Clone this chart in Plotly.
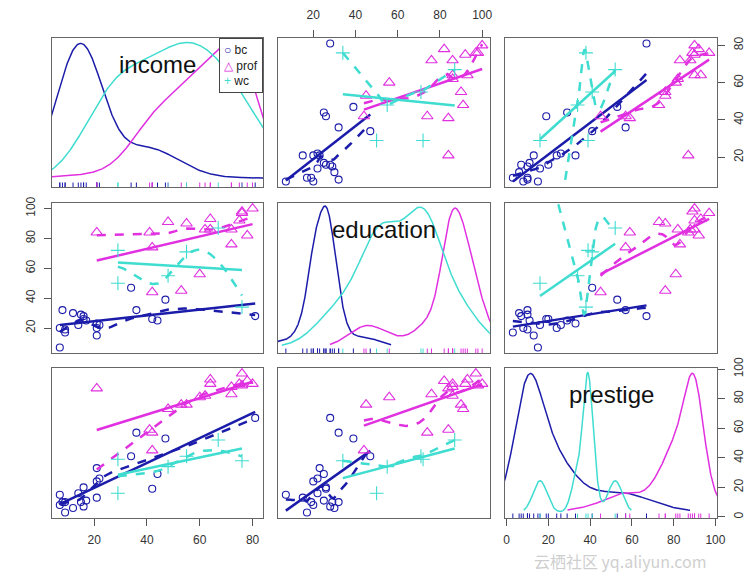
import numpy as np
import plotly.graph_objects as go

# ---- Duncan occupational data ----
occ_type = ["prof", "prof", "prof", "prof", "prof", "prof", "prof", "prof", "wc", "prof",
            "prof", "prof", "prof", "prof", "prof", "wc", "prof", "prof", "prof", "prof",
            "wc", "wc", "wc", "wc", "bc", "bc", "bc", "bc", "bc", "bc",
            "bc", "bc", "bc", "bc", "bc", "bc", "bc", "bc", "bc", "bc",
            "bc", "bc", "bc", "bc", "bc"]
income = [62, 72, 75, 55, 64, 21, 64, 80, 67, 72, 42, 76, 76, 41, 48, 76, 53, 60, 42, 78,
          29, 48, 55, 29, 21, 47, 81, 36, 22, 44, 15, 7, 42, 9, 21, 21, 16, 16, 9, 14,
          12, 17, 7, 34, 8]
education = [86, 76, 92, 90, 86, 84, 93, 100, 87, 86, 74, 98, 97, 84, 91, 34, 45, 56, 44, 82,
             72, 55, 71, 50, 23, 39, 28, 32, 22, 25, 29, 7, 26, 19, 15, 20, 26, 28, 17, 22,
             30, 25, 20, 47, 32]
prestige = [82, 83, 90, 76, 90, 87, 93, 90, 52, 88, 57, 89, 97, 59, 73, 38, 76, 81, 45, 92,
            39, 34, 41, 16, 33, 53, 67, 57, 26, 29, 10, 15, 19, 10, 13, 24, 20, 7, 3, 16,
            6, 11, 8, 41, 10]

var_names = ["income", "education", "prestige"]
groups = ["bc", "prof", "wc"]
group_colors = {"bc": "#1c1caa", "prof": "#e030e0", "wc": "#3fdcd0"}
group_symbols = {"bc": "circle-open", "prof": "triangle-up-open", "wc": "cross-thin-open"}
group_sizes = {"bc": 7, "prof": 10, "wc": 10}

tick_income = [20, 40, 60, 80]
tick_education = [20, 40, 60, 80, 100]
tick_prestige = [0, 20, 40, 60, 80, 100]

data = {"income": np.array(income, float),
        "education": np.array(education, float),
        "prestige": np.array(prestige, float)}
gtype = np.array(occ_type)

# page body has an 8px margin: figure is drawn 8px in from the window corner
OFF = 8
W, H = 755 - OFF, 575 - OFF
col_px = [(52, 263), (278, 490), (505, 717)]   # window pixel positions
row_px = [(38, 187), (203, 353), (368, 518)]

FONT = "Liberation Sans, Arial, sans-serif"


def px_x(p):
    return (p - OFF) / W


def px_y(p):
    return 1 - (p - OFF) / H


def rng(v):
    a = data[v]
    s = a.max() - a.min()
    return [a.min() - 0.04 * s, a.max() + 0.04 * s]


# ---------- loess (degree 1, symmetric, kd-tree vertex interpolation) ----------
def loess(x, y, xe, span=2 / 3, iters=4, cell=0.2):
    x = np.asarray(x, float)
    y = np.asarray(y, float)
    n = len(x)
    q = max(int(np.floor(n * span)), 2)
    xs = np.sort(x)
    fc = int(np.floor(n * span * cell))
    lo_b, hi_b = xs[0], xs[-1]
    mu = 0.005 * max(hi_b - lo_b, 1e-10 * max(abs(lo_b), abs(hi_b)) + 1e-30)
    verts = {lo_b - mu, hi_b + mu}

    def build(l, u, vlo, vhi):
        if (u - l + 1) <= fc or vhi - vlo <= 0:
            return
        m = (l + u) // 2
        off = 0
        while True:
            if m + off >= u or m + off < l:
                break
            if xs[m + off] == xs[m + off + 1]:
                off = -off
                if off >= 0:
                    off += 1
            else:
                m = m + off
                break
        v = xs[m]
        if v == vlo or v == vhi:
            return
        verts.add(v)
        build(l, m, vlo, v)
        build(m + 1, u, v, vhi)

    build(0, n - 1, lo_b - mu, hi_b + mu)
    V = np.array(sorted(verts))

    def local(x0, rw):
        d = np.abs(x - x0)
        h = np.sort(d)[q - 1]
        if h <= 0:
            h = 1e-9
        u = d / h
        w = np.where(u < 1, (1 - u ** 3) ** 3, 0.0) * rw
        sw = w.sum()
        if sw <= 0:
            return 0.0, 0.0
        xm = (w * x).sum() / sw
        ym = (w * y).sum() / sw
        sxx = (w * (x - xm) ** 2).sum()
        if sxx <= 1e-10:
            return ym, 0.0
        b = (w * (x - xm) * (y - ym)).sum() / sxx
        return ym + b * (x0 - xm), b

    def surface(rw):
        vals = np.array([local(v, rw) for v in V])
        g, s = vals[:, 0], vals[:, 1]

        def ev(pts):
            pts = np.asarray(pts, float)
            i = np.clip(np.searchsorted(V, pts) - 1, 0, len(V) - 2)
            hh = V[i + 1] - V[i]
            t = (pts - V[i]) / hh
            phi0 = (1 - t) ** 2 * (1 + 2 * t)
            phi1 = t ** 2 * (3 - 2 * t)
            psi0 = t * (1 - t) ** 2
            psi1 = -t ** 2 * (1 - t)
            return phi0 * g[i] + phi1 * g[i + 1] + (psi0 * s[i] + psi1 * s[i + 1]) * hh
        return ev

    rw = np.ones(n)
    for it in range(iters):
        ev = surface(rw)
        if it == iters - 1:
            break
        res = y - ev(x)
        cmad = 6 * np.median(np.abs(res))
        if cmad <= 0:
            break
        u = np.abs(res) / cmad
        rw = np.where(u <= 0.001, 1.0, np.where(u > 0.999, 0.0, (1 - u ** 2) ** 2))
    return ev(xe)


# ---------- adaptive kernel density ----------
def bw_nrd0(v):
    sd = v.std(ddof=1)
    q75, q25 = np.percentile(v, [75, 25])
    lo = min(sd, (q75 - q25) / 1.34)
    if lo <= 0:
        lo = sd if sd > 0 else 1.0
    return 0.9 * lo * len(v) ** -0.2


def adaptive_density(xg, allx, npts=500):
    xg = np.asarray(xg, float)
    bw = bw_nrd0(xg)
    grid = np.linspace(xg.min() - 3 * bw, xg.max() + 3 * bw, npts)

    def K(z):
        return np.exp(-0.5 * z * z) / np.sqrt(2 * np.pi)

    pilot = K((grid[:, None] - xg[None, :]) / bw).mean(1) / bw
    px = np.interp(xg, grid, pilot)
    g = np.exp(np.mean(np.log(px)))
    hh = bw * (px / g) ** -0.5
    p = (K((grid[:, None] - xg[None, :]) / hh[None, :]) / hh[None, :]).mean(1)
    yv = allx.min() + p * (allx.max() - allx.min()) / (p.max() - p.min())
    return grid, yv


fig = go.Figure()
shapes = []
annotations = []
layout = {}


def axname(prefix, k):
    return prefix if k == 1 else f"{prefix}{k}"


for r in range(3):
    for c in range(3):
        k = r * 3 + c + 1
        xr = "x" if k == 1 else f"x{k}"
        yr = "y" if k == 1 else f"y{k}"
        xv, yv = var_names[c], var_names[r]
        if r == c:
            allx = data[xv]
            for g in groups:
                m = gtype == g
                gx, gy = adaptive_density(allx[m], allx)
                fig.add_trace(go.Scatter(x=gx, y=gy, mode="lines", xaxis=xr, yaxis=yr,
                                         line=dict(color=group_colors[g], width=1.5),
                                         showlegend=False, hoverinfo="skip"))
                for val in allx[m]:
                    shapes.append(dict(type="line", xref=xr, yref=f"{yr} domain",
                                       x0=val, x1=val, y0=0, y1=0.03,
                                       line=dict(color=group_colors[g], width=1)))
            annotations.append(dict(text=xv, xref=f"{xr} domain", yref=f"{yr} domain",
                                    x=0.5, y=0.825, xanchor="center", yanchor="middle",
                                    showarrow=False,
                                    font=dict(size=24, color="#111", family=FONT)))
        else:
            for g in groups:
                m = gtype == g
                gx = data[xv][m]
                gy = data[yv][m]
                col = group_colors[g]
                fig.add_trace(go.Scatter(x=gx, y=gy, mode="markers", xaxis=xr, yaxis=yr,
                                         marker=dict(symbol=group_symbols[g], size=group_sizes[g],
                                                     color=col, line=dict(width=1.1, color=col)),
                                         showlegend=False))
                # least squares line
                b, a = np.polyfit(gx, gy, 1)
                lx = np.array([gx.min(), gx.max()])
                fig.add_trace(go.Scatter(x=lx, y=a + b * lx, mode="lines", xaxis=xr, yaxis=yr,
                                         line=dict(color=col, width=2.5),
                                         showlegend=False, hoverinfo="skip"))
                # loess smooth
                xe = np.linspace(gx.min(), gx.max(), 100)
                ye = loess(gx, gy, xe)
                fig.add_trace(go.Scatter(x=xe, y=ye, mode="lines", xaxis=xr, yaxis=yr,
                                         line=dict(color=col, width=2.5, dash="dash"),
                                         showlegend=False, hoverinfo="skip"))

        x0, x1 = col_px[c]
        y0, y1 = row_px[r]
        xa = dict(domain=[px_x(x0), px_x(x1)], range=rng(xv), anchor=yr, automargin=False,
                  showgrid=False, zeroline=False, showline=True, mirror=True,
                  linecolor="#666", linewidth=1, showticklabels=False, ticks="")
        ya = dict(domain=[px_y(y1), px_y(y0)], range=rng(yv), anchor=xr, automargin=False,
                  showgrid=False, zeroline=False, showline=True, mirror=True,
                  linecolor="#666", linewidth=1, showticklabels=False, ticks="")
        tickstyle = dict(showticklabels=True, ticks="outside", ticklen=7, tickwidth=1,
                         tickcolor="#555", ticklabelstandoff=4,
                         tickfont=dict(size=12, color="#333", family=FONT))
        if k == 2:
            xa.update(tickstyle, side="top", tickvals=tick_education)
            xa["ticklabelstandoff"] = 6
        if k == 7:
            xa.update(tickstyle, side="bottom", tickvals=tick_income)
        if k == 9:
            xa.update(tickstyle, side="bottom", tickvals=tick_prestige)
        if k == 3:
            ya.update(tickstyle, side="right", tickvals=tick_income, tickangle=-90)
        if k == 4:
            ya.update(tickstyle, side="left", tickvals=tick_education, tickangle=-90)
        if k == 9:
            ya.update(tickstyle, side="right", tickvals=tick_prestige, tickangle=-90)
        layout[axname("xaxis", k)] = xa
        layout[axname("yaxis", k)] = ya

legend_text = "<br>".join(
    f'<span style="color:{group_colors[g]}">{s}</span> {g}'
    for g, s in zip(groups, ["○", "△", "+"]))
annotations.append(dict(text=legend_text, xref="paper", yref="paper",
                        x=px_x(263), y=px_y(38), xanchor="right", yanchor="top",
                        showarrow=False, align="left", bgcolor="white",
                        bordercolor="#444", borderwidth=1, borderpad=4,
                        font=dict(size=12, color="#222", family=FONT)))
annotations.append(dict(text="云栖社区 yq.aliyun.com", xref="paper", yref="paper",
                        x=px_x(620), y=px_y(561), xanchor="center", yanchor="middle",
                        showarrow=False, borderpad=0,
                        font=dict(size=16, color="rgba(190,190,190,0.75)",
                                  family="Noto Sans CJK SC, sans-serif")))

fig.update_layout(width=W, height=H, margin=dict(l=0, r=0, t=0, b=0),
                  paper_bgcolor="white", plot_bgcolor="white",
                  shapes=shapes, annotations=annotations, showlegend=False,
                  **layout)
fig.write_html("out.html")
